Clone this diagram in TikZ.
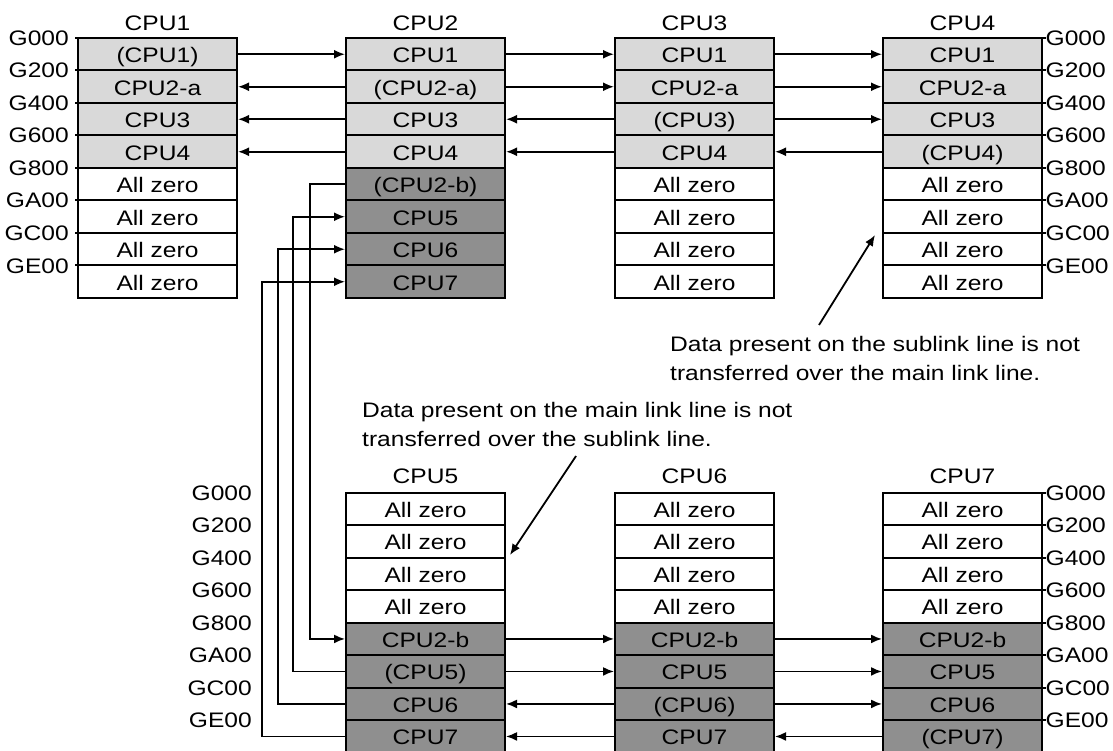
\documentclass[tikz,border=0pt]{standalone}
\usepackage{fontspec}
\setmainfont{Liberation Sans}[FakeStretch=1.17]
\usetikzlibrary{arrows.meta}
\definecolor{lgray}{HTML}{D9D9D9}
\definecolor{dgray}{HTML}{8F8F8F}
\tikzset{
  cell/.style={draw=black,line width=2pt,minimum width=159pt,minimum height=32.5pt,inner sep=0pt,
    font=\fontsize{21}{24}\selectfont,text height=17pt,text depth=0pt},
  lab/.style={inner sep=0pt,font=\fontsize{21}{24}\selectfont,text height=15pt,text depth=0pt},
  note/.style={inner sep=0pt,font=\fontsize{21}{29}\selectfont,align=left,anchor=north west},
  link/.style={line width=1.8pt,-{Latex[length=11pt,width=9pt]}},
  tick/.style={line width=2pt}
}
\newcommand\mkcol[4]{\foreach \t/\f [count=\i] in {#4}{\node[cell,fill=\f] (#1\i) at (#2,{#3+32.5*(\i-0.5)}) {\t};}}
\begin{document}
\begin{tikzpicture}[x=1pt,y=-1pt]
\useasboundingbox (0,0) rectangle (1113,751);
% top blocks
\mkcol{a}{157.5}{38}{(CPU1)/lgray,CPU2-a/lgray,CPU3/lgray,CPU4/lgray,All zero/white,All zero/white,All zero/white,All zero/white}
\mkcol{b}{425.5}{38}{CPU1/lgray,(CPU2-a)/lgray,CPU3/lgray,CPU4/lgray,(CPU2-b)/dgray,CPU5/dgray,CPU6/dgray,CPU7/dgray}
\mkcol{c}{694.5}{38}{CPU1/lgray,CPU2-a/lgray,(CPU3)/lgray,CPU4/lgray,All zero/white,All zero/white,All zero/white,All zero/white}
\mkcol{d}{962.5}{38}{CPU1/lgray,CPU2-a/lgray,CPU3/lgray,(CPU4)/lgray,All zero/white,All zero/white,All zero/white,All zero/white}
% bottom blocks
\mkcol{e}{425.5}{492.7}{All zero/white,All zero/white,All zero/white,All zero/white,CPU2-b/dgray,(CPU5)/dgray,CPU6/dgray,CPU7/dgray}
\mkcol{f}{694.5}{492.7}{All zero/white,All zero/white,All zero/white,All zero/white,CPU2-b/dgray,CPU5/dgray,(CPU6)/dgray,CPU7/dgray}
\mkcol{g}{962.5}{492.7}{All zero/white,All zero/white,All zero/white,All zero/white,CPU2-b/dgray,CPU5/dgray,CPU6/dgray,(CPU7)/dgray}
% titles
\node[lab] (ta) at (157.5,23.3) {CPU1};
\node[lab] (tb) at (425.5,23.3) {CPU2};
\node[lab] (tc) at (694.5,23.3) {CPU3};
\node[lab] (td) at (962.5,23.3) {CPU4};
\node[lab] (te) at (425.5,476) {CPU5};
\node[lab] (tf) at (694.5,476) {CPU6};
\node[lab] (tg) at (962.5,476) {CPU7};
% address labels
\foreach \g [count=\k from 0] in {G000,G200,G400,G600,G800,GA00,GC00,GE00}{
  \node[lab,anchor=east] (la\k) at (69,{38+32.5*\k}) {\g};
  \draw[tick] (75,{38+32.5*\k}) -- (78,{38+32.5*\k});
  \node[lab,anchor=west] (ld\k) at (1045.5,{38+32.5*\k}) {\g};
  \draw[tick] (1042,{38+32.5*\k}) -- (1046,{38+32.5*\k});
  \node[lab,anchor=east] (le\k) at (252,{492.7+32.5*\k}) {\g};
  \node[lab,anchor=west] (lg\k) at (1045.5,{492.7+32.5*\k}) {\g};
  \draw[tick] (1042,{492.7+32.5*\k}) -- (1046,{492.7+32.5*\k});
}
% main link transfers
\draw[link] (a1.east) -- (b1.west);
\draw[link] (b1.east) -- (c1.west);
\draw[link] (c1.east) -- (d1.west);
\draw[link] (b2.west) -- (a2.east);
\draw[link] (b2.east) -- (c2.west);
\draw[link] (c2.east) -- (d2.west);
\draw[link] (b3.west) -- (a3.east);
\draw[link] (c3.west) -- (b3.east);
\draw[link] (c3.east) -- (d3.west);
\draw[link] (b4.west) -- (a4.east);
\draw[link] (c4.west) -- (b4.east);
\draw[link] (d4.west) -- (c4.east);
% sublink transfers
\draw[link] (e5.east) -- (f5.west);
\draw[link] (f5.east) -- (g5.west);
\draw[link] (e6.east) -- (f6.west);
\draw[link] (f6.east) -- (g6.west);
\draw[link] (f7.west) -- (e7.east);
\draw[link] (f7.east) -- (g7.west);
\draw[link] (f8.west) -- (e8.east);
\draw[link] (g8.west) -- (f8.east);
% CPU2 <-> CPU5
\draw[link] (b5.west) -- ++(-35,0) |- (e5.west);
\draw[link] (e6.west) -- ++(-52,0) |- (b6.west);
\draw[link] (e7.west) -- ++(-67,0) |- (b7.west);
\draw[link] (e8.west) -- ++(-83,0) |- (b8.west);
% notes
\node[note] (n1) at (670,336) {Data present on the sublink line is not\\transferred over the main link line.};
\coordinate (n1a) at (819,325);
\coordinate (n1b) at (875,235);
\draw[link] (n1a) -- (n1b);
\node[note] (n2) at (362,401.7) {Data present on the main link line is not\\transferred over the sublink line.};
\coordinate (n2a) at (576,456);
\coordinate (n2b) at (510,555);
\draw[link] (n2a) -- (n2b);
\end{tikzpicture}
\end{document}
